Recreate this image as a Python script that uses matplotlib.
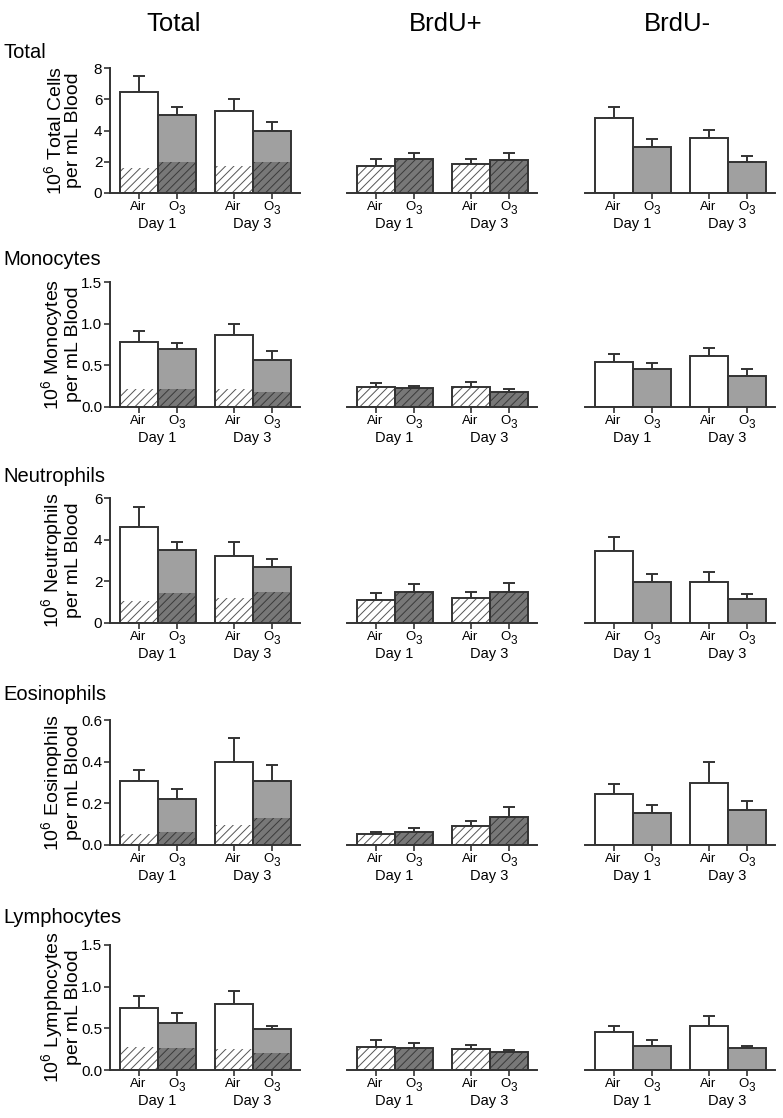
import numpy as np
import matplotlib
matplotlib.use('Agg')
import matplotlib.pyplot as plt
from matplotlib.transforms import blended_transform_factory

plt.rcParams['font.family'] = ['Liberation Sans', 'DejaVu Sans']
plt.rcParams['mathtext.fontset'] = 'custom'
plt.rcParams['mathtext.rm'] = 'Liberation Sans'
plt.rcParams['mathtext.it'] = 'Liberation Sans:italic'
plt.rcParams['hatch.linewidth'] = 0.7

# Bars in each panel: Air Day 1, O3 Day 1, Air Day 3, O3 Day 3
cell_types = ['Total', 'Monocytes', 'Neutrophils', 'Eosinophils', 'Lymphocytes']
ylabels = ['10$^6$ Total Cells', '10$^6$ Monocytes', '10$^6$ Neutrophils',
           '10$^6$ Eosinophils', '10$^6$ Lymphocytes']
col_titles = ['Total', 'BrdU+', 'BrdU-']
bar_labels = ['Air', 'O3', 'Air', 'O3']
day_labels = ['Day 1', 'Day 3']

yticks = [[0, 2, 4, 6, 8], [0.0, 0.5, 1.0, 1.5], [0, 2, 4, 6],
          [0.0, 0.2, 0.4, 0.6], [0.0, 0.5, 1.0, 1.5]]
ytick_fmt = ['{:.0f}', '{:.1f}', '{:.0f}', '{:.1f}', '{:.1f}']

total_mean = [[6.45, 5.00, 5.25, 4.00],
              [0.78, 0.70, 0.86, 0.56],
              [4.62, 3.50, 3.21, 2.71],
              [0.306, 0.222, 0.400, 0.308],
              [0.746, 0.568, 0.794, 0.496]]
total_sem = [[1.05, 0.53, 0.79, 0.53],
             [0.13, 0.07, 0.14, 0.11],
             [0.93, 0.41, 0.67, 0.34],
             [0.054, 0.046, 0.114, 0.075],
             [0.143, 0.115, 0.158, 0.036]]
# BrdU+ share drawn hatched inside the total bars
total_brdu = [[1.62, 2.00, 1.73, 1.96],
              [0.22, 0.22, 0.22, 0.18],
              [1.08, 1.46, 1.18, 1.48],
              [0.051, 0.061, 0.095, 0.131],
              [0.278, 0.267, 0.250, 0.210]]

pos_mean = [[1.75, 2.16, 1.88, 2.11],
            [0.236, 0.232, 0.244, 0.184],
            [1.12, 1.50, 1.20, 1.50],
            [0.051, 0.061, 0.093, 0.133],
            [0.279, 0.270, 0.250, 0.219]]
pos_sem = [[0.41, 0.38, 0.32, 0.47],
           [0.054, 0.024, 0.056, 0.032],
           [0.32, 0.35, 0.27, 0.40],
           [0.013, 0.022, 0.024, 0.051],
           [0.078, 0.056, 0.050, 0.024]]

neg_mean = [[4.83, 2.94, 3.50, 2.00],
            [0.54, 0.46, 0.61, 0.372],
            [3.47, 1.97, 1.97, 1.16],
            [0.247, 0.154, 0.297, 0.168],
            [0.452, 0.286, 0.524, 0.262]]
neg_sem = [[0.68, 0.54, 0.53, 0.39],
           [0.10, 0.07, 0.10, 0.084],
           [0.65, 0.37, 0.48, 0.24],
           [0.046, 0.036, 0.100, 0.045],
           [0.076, 0.071, 0.119, 0.028]]

xpos = np.array([0, 1, 2.5, 3.5])
line_col = '#333333'
air_face, o3_face = 'white', '#a0a0a0'
air_hatch_face, o3_hatch_face = 'white', '#787878'
air_hatch_col, o3_hatch_col = '#555555', '#3a3a3a'

W, H = 783, 1118
fig = plt.figure(figsize=(W / 100, H / 100), dpi=100)

col_left = [110, 347, 585]
row_top = [68, 282, 498, 720, 945]
ax_w, ax_h = 190, 125
row_label_base = [58, 265, 482, 700, 923]


def draw_bars(ax, mean, sem, hatched=None, all_hatched=False):
    faces = [air_face, o3_face] * 2
    hfaces = [air_hatch_face, o3_hatch_face] * 2
    hcols = [air_hatch_col, o3_hatch_col] * 2
    if all_hatched:
        ax.bar(xpos, mean, width=1, color=hfaces, edgecolor=hcols,
               hatch='////', linewidth=0, zorder=2)
    else:
        ax.bar(xpos, mean, width=1, color=faces, linewidth=0, zorder=2)
        if hatched is not None:
            ax.bar(xpos, hatched, width=1, color=hfaces, edgecolor=hcols,
                   hatch='////', linewidth=0, zorder=2)
    ax.errorbar(xpos, mean, yerr=[np.zeros(4), sem], fmt='none',
                ecolor=line_col, elinewidth=1.4, capsize=4, capthick=1.4, zorder=1)
    ax.bar(xpos, mean, width=1, fill=False, edgecolor=line_col,
           linewidth=1.4, zorder=3)


def label_bars(ax):
    # "Air" / "O3" under each bar, with a large subscript 3 like the original
    trans = blended_transform_factory(ax.transData, ax.transAxes)
    for x, lab in zip(xpos, bar_labels):
        if lab == 'Air':
            ax.annotate('Air', xy=(x, 0), xycoords=trans, xytext=(0, -5.5),
                        textcoords='offset points', ha='center', va='top',
                        fontsize=9.5)
        else:
            ax.annotate('O', xy=(x, 0), xycoords=trans, xytext=(1.3, -5.5),
                        textcoords='offset points', ha='right', va='top',
                        fontsize=9.5)
            ax.annotate('3', xy=(x, 0), xycoords=trans, xytext=(1.3, -8.5),
                        textcoords='offset points', ha='left', va='top',
                        fontsize=8.5)
    for k, day in enumerate(day_labels):
        ax.text(xpos[2 * k] + 0.5, -0.25, day, transform=trans,
                ha='center', va='center', fontsize=10.5)


for r in range(5):
    top = max(yticks[r])
    for c in range(3):
        ax = fig.add_axes([col_left[c] / W, 1 - (row_top[r] + ax_h) / H,
                           ax_w / W, ax_h / H])
        if c == 0:
            draw_bars(ax, total_mean[r], total_sem[r], hatched=total_brdu[r])
        elif c == 1:
            draw_bars(ax, pos_mean[r], pos_sem[r], all_hatched=True)
        else:
            draw_bars(ax, neg_mean[r], neg_sem[r])

        ax.set_xlim(-0.75, 4.25)
        ax.set_ylim(0, top)
        for s in ['top', 'right']:
            ax.spines[s].set_visible(False)
        ax.spines['bottom'].set_color(line_col)
        ax.spines['bottom'].set_linewidth(1.4)
        ax.set_xticks(xpos)
        ax.set_xticklabels([])
        ax.tick_params(axis='x', length=4, width=1.2, color=line_col)
        label_bars(ax)

        if c == 0:
            ax.spines['left'].set_color(line_col)
            ax.spines['left'].set_linewidth(1.4)
            ax.set_yticks(yticks[r])
            ax.set_yticklabels([ytick_fmt[r].format(v) for v in yticks[r]], fontsize=11)
            ax.tick_params(axis='y', length=4, width=1.2, color=line_col, pad=1.5)
            ax.set_ylabel(ylabels[r] + '\nper mL Blood', fontsize=14,
                          multialignment='center', linespacing=0.95)
            ax.yaxis.set_label_coords(-0.15, 0.5)
        else:
            ax.spines['left'].set_visible(False)
            ax.set_yticks([])

    fig.text(3 / W, 1 - row_label_base[r] / H, cell_types[r],
             fontsize=14.5, ha='left', va='baseline')

title_x = [174, 446, 677]
for c in range(3):
    fig.text(title_x[c] / W, 1 - 31 / H, col_titles[c], fontsize=18.5,
             ha='center', va='baseline')

fig.savefig('out.png', dpi=100)
